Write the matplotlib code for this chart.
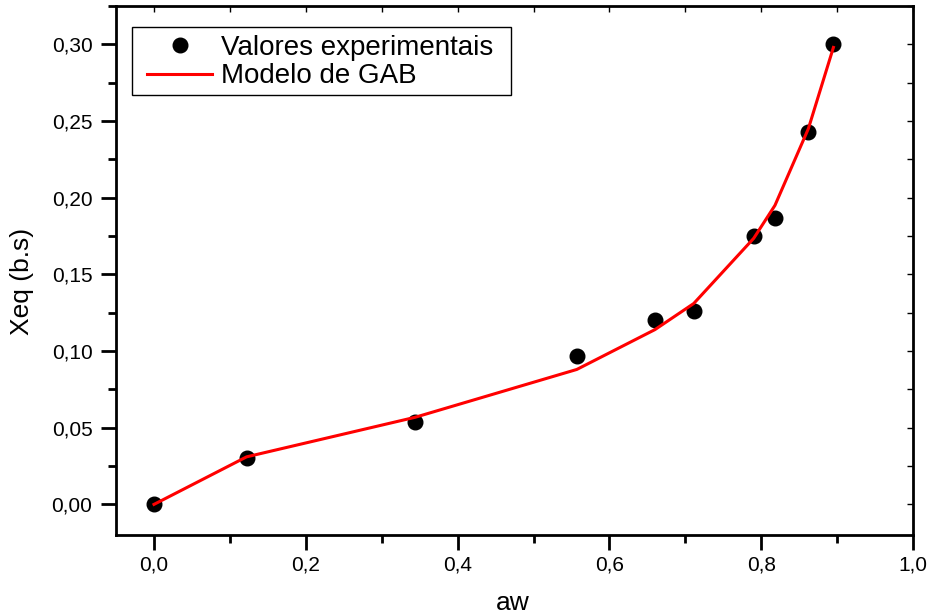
import matplotlib
matplotlib.use("Agg")
import matplotlib.pyplot as plt
from matplotlib.patches import Rectangle
from matplotlib.ticker import FuncFormatter, MultipleLocator

plt.rcParams["font.family"] = ["Liberation Sans", "DejaVu Sans"]

# Water activity and equilibrium moisture content (dry basis)
aw = [0.0, 0.122, 0.344, 0.557, 0.660, 0.711, 0.790, 0.818, 0.862, 0.895]
xeq_exp = [0.000, 0.030, 0.0535, 0.097, 0.120, 0.126, 0.175, 0.187, 0.243, 0.300]
xeq_gab = [0.000, 0.031, 0.0568, 0.088, 0.114, 0.131, 0.1735, 0.195, 0.245, 0.298]


def comma(fmt):
    """Tick formatter with a decimal comma."""
    return FuncFormatter(lambda v, pos: fmt.format(v).replace(".", ","))


fig = plt.figure(figsize=(9.29, 6.15), dpi=100)
ax = fig.add_axes([0.1249, 0.130, 0.858, 0.8602])

ax.plot(aw, xeq_exp, "o", color="black", markersize=10.5,
        label="Valores experimentais", zorder=2)
ax.plot(aw, xeq_gab, "-", color="red", linewidth=2.2,
        label="Modelo de GAB", zorder=3)

ax.set_xlim(-0.05, 1.0)
ax.set_ylim(-0.02, 0.325)
ax.xaxis.set_major_locator(MultipleLocator(0.2))
ax.xaxis.set_minor_locator(MultipleLocator(0.1))
ax.yaxis.set_major_locator(MultipleLocator(0.05))
ax.yaxis.set_minor_locator(MultipleLocator(0.025))
ax.xaxis.set_major_formatter(comma("{:.1f}"))
ax.yaxis.set_major_formatter(comma("{:.2f}"))

for s in ax.spines.values():
    s.set_linewidth(2)
ax.tick_params(which="major", direction="out", length=11, width=2,
               labelsize=15)
ax.tick_params(which="minor", direction="out", length=6, width=2)
ax.tick_params(axis="x", which="major", pad=4)
ax.tick_params(axis="y", which="major", pad=6)

# top/right: small inward ticks without labels
secx = ax.secondary_xaxis("top")
secy = ax.secondary_yaxis("right")
for sec, axis, step in ((secx, secx.xaxis, 0.1), (secy, secy.yaxis, 0.025)):
    axis.set_major_locator(MultipleLocator(2 * step))
    axis.set_minor_locator(MultipleLocator(step))
    sec.tick_params(which="both", direction="in", length=4, width=1,
                    labelleft=False, labelright=False,
                    labeltop=False, labelbottom=False)
    for s in sec.spines.values():
        s.set_visible(False)

ax.set_xlabel("aw", fontsize=19)
ax.set_ylabel("Xeq (b.s)", fontsize=19)
ax.xaxis.set_label_coords(0.498, -0.106)
ax.yaxis.set_label_coords(-0.103, 0.48)

# legend frame drawn separately so the inner padding can be set per side
ax.add_patch(Rectangle((0.0201, 0.8318), 0.4755, 0.1285,
                       transform=ax.transAxes, facecolor="white",
                       edgecolor="black", linewidth=1, zorder=4))
leg = ax.legend(loc="upper left", bbox_to_anchor=(0.0389, 0.946),
                borderaxespad=0, borderpad=0, fontsize=20, frameon=False,
                handlelength=2.35, handletextpad=0.3, labelspacing=0.1)
leg.set_zorder(5)

fig.savefig("out.png", dpi=100)
